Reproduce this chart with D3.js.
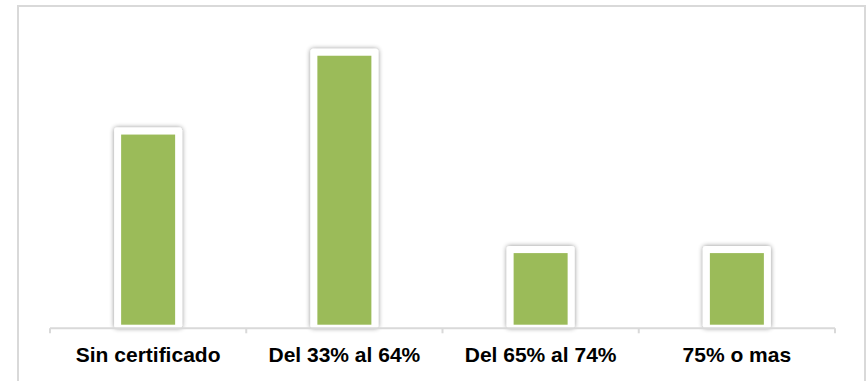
<!DOCTYPE html>
<html>
<head>
<meta charset="utf-8">
<script src="https://cdn.jsdelivr.net/npm/d3@7/dist/d3.min.js"></script>
<style>
  html, body { margin: 0; padding: 0; background: #fff; }
  svg { display: block; }
</style>
</head>
<body>
<script>
const categories = ["Sin certificado", "Del 33% al 64%", "Del 65% al 74%", "75% o mas"];
const values = [31.6, 44.7, 11.9, 11.9];

const W = 868, H = 381;
const svg = d3.select("body").append("svg").attr("width", W).attr("height", H);

const defs = svg.append("defs");
const f = defs.append("filter").attr("id", "shadow")
  .attr("x", "-30%").attr("y", "-30%").attr("width", "160%").attr("height", "160%");
f.append("feGaussianBlur").attr("in", "SourceAlpha").attr("stdDeviation", 2.5).attr("result", "b");
f.append("feComponentTransfer").attr("in", "b").attr("result", "s")
  .append("feFuncA").attr("type", "linear").attr("slope", 0.45);
const m = f.append("feMerge");
m.append("feMergeNode").attr("in", "s");
m.append("feMergeNode").attr("in", "SourceGraphic");

// chart border
svg.append("rect").attr("x", 18).attr("y", 6).attr("width", 847).attr("height", 400)
  .attr("fill", "none").attr("stroke", "#d9d9d9").attr("stroke-width", 2);

const x0 = 50, x1 = 835, base = 324.7;
const x = d3.scaleBand().domain(categories).range([x0, x1]).paddingInner(0).paddingOuter(0);
const y = d3.scaleLinear().domain([0, 50]).range([base, base - 50 * 6.017]);

const bw = 54;
const g = svg.append("g");
const bars = g.selectAll("g.bar").data(values).join("g").attr("class", "bar");
bars.append("rect")
  .attr("x", (d, i) => x(categories[i]) + x.bandwidth() / 2 - bw / 2 - 7)
  .attr("y", d => y(d) - 7)
  .attr("width", bw + 14)
  .attr("height", d => base - y(d) + 7 + 3.6)
  .attr("rx", 3)
  .attr("fill", "#fff")
  .attr("filter", "url(#shadow)");
bars.append("rect")
  .attr("x", (d, i) => x(categories[i]) + x.bandwidth() / 2 - bw / 2)
  .attr("y", d => y(d))
  .attr("width", bw)
  .attr("height", d => base - y(d))
  .attr("fill", "#9bbb59");

// axis
const axis = d3.axisBottom(x).tickSize(0).tickFormat("");
const ag = svg.append("g").attr("transform", `translate(0,328.3)`).call(axis);
ag.select(".domain").remove();
ag.append("line").attr("x1", x0).attr("x2", x1).attr("y1", 0).attr("y2", 0)
  .attr("stroke", "#d9d9d9").attr("stroke-width", 2);
const bounds = categories.map(c => x(c)).concat([x1]);
ag.selectAll("line.tk").data(bounds).join("line").attr("class", "tk")
  .attr("x1", d => d).attr("x2", d => d).attr("y1", 0).attr("y2", 5)
  .attr("stroke", "#d9d9d9").attr("stroke-width", 2);

svg.append("g").selectAll("text").data(categories).join("text")
  .attr("x", d => x(d) + x.bandwidth() / 2)
  .attr("y", 361.7)
  .attr("text-anchor", "middle")
  .attr("font-family", "Liberation Sans, Arial, sans-serif")
  .attr("font-weight", "bold")
  .attr("font-size", 21)
  .attr("fill", "#000")
  .text(d => d);
</script>
</body>
</html>
